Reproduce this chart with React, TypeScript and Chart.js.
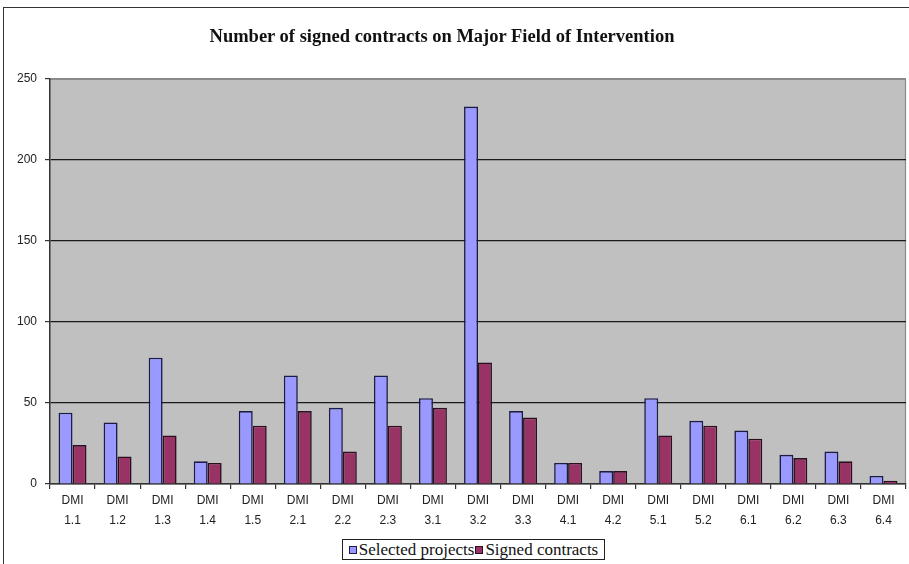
import React, { useEffect, useRef } from "react";
import { Chart, registerables } from "chart.js";

Chart.register(...registerables);

// Major fields of intervention (two-line axis labels)
const categories: string[][] = [
  ["DMI", "1.1"], ["DMI", "1.2"], ["DMI", "1.3"], ["DMI", "1.4"], ["DMI", "1.5"],
  ["DMI", "2.1"], ["DMI", "2.2"], ["DMI", "2.3"], ["DMI", "3.1"], ["DMI", "3.2"],
  ["DMI", "3.3"], ["DMI", "4.1"], ["DMI", "4.2"], ["DMI", "5.1"], ["DMI", "5.2"],
  ["DMI", "6.1"], ["DMI", "6.2"], ["DMI", "6.3"], ["DMI", "6.4"],
];

const selectedProjects: number[] = [44, 38, 78, 14, 45, 67, 47, 67, 53, 233, 45, 13, 8, 53, 39, 33, 18, 20, 5];
const signedContracts: number[] = [24, 17, 30, 13, 36, 45, 20, 36, 47, 75, 41, 13, 8, 30, 36, 28, 16, 14, 2];

const yMin = 0;
const yMax = 250;
const yStep = 50;

const seriesNames = ["Selected projects", "Signed contracts"];
const seriesColors = ["#9999FF", "#993366"];
const seriesBorders = ["#1c1c4a", "#2a0f1e"];

const titleText = "Number of signed contracts on Major Field of Intervention";

// Grey plot background with a light frame on the top and right edges
const plotBackground = {
  id: "plotBackground",
  beforeDraw(chart: any) {
    const { ctx, chartArea: a } = chart;
    ctx.save();
    ctx.fillStyle = "#C0C0C0";
    ctx.fillRect(a.left, a.top, a.right - a.left, a.bottom - a.top);
    ctx.strokeStyle = "#8a8a8a";
    ctx.lineWidth = 1.2;
    ctx.beginPath();
    ctx.moveTo(a.left, a.top + 0.5);
    ctx.lineTo(a.right - 0.5, a.top + 0.5);
    ctx.lineTo(a.right - 0.5, a.bottom);
    ctx.stroke();
    ctx.restore();
  },
};

export default function App() {
  const canvasRef = useRef<HTMLCanvasElement | null>(null);

  useEffect(() => {
    if (!canvasRef.current) return;
    const tickFont = { family: "'Liberation Sans', Arial, sans-serif", size: 12 };
    const chart = new Chart(canvasRef.current, {
      type: "bar",
      data: {
        labels: categories,
        datasets: [
          {
            label: seriesNames[0],
            data: selectedProjects,
            backgroundColor: seriesColors[0],
            borderColor: seriesBorders[0],
            borderWidth: 1.6,
          },
          {
            label: seriesNames[1],
            data: signedContracts,
            backgroundColor: seriesColors[1],
            borderColor: seriesBorders[1],
            borderWidth: 1.6,
          },
        ],
      },
      options: {
        animation: false,
        responsive: false,
        layout: { padding: { top: 79, right: 3, left: 0, bottom: 0 } },
        datasets: { bar: { categoryPercentage: 0.62, barPercentage: 1 } },
        plugins: {
          legend: { display: false },
          title: { display: false },
          tooltip: { enabled: false },
        },
        scales: {
          x: {
            grid: {
              offset: true,
              drawOnChartArea: false,
              drawTicks: true,
              tickLength: 5,
              color: "#333333",
              lineWidth: 1.2,
            },
            border: { color: "#333333", width: 1.5 },
            ticks: {
              font: { ...tickFont, lineHeight: 1.65 },
              color: "#222222",
              padding: 2,
              maxRotation: 0,
              autoSkip: false,
            },
            afterFit(scale: any) {
              scale.height = 80;
            },
          },
          y: {
            min: yMin,
            max: yMax,
            grid: {
              color: (ctx: any) => (ctx.tick && ctx.tick.value === yMax ? "#8a8a8a" : "#1a1a1a"),
              tickColor: "#333333",
              lineWidth: 1.2,
              drawTicks: true,
              tickLength: 5,
            },
            border: { color: "#333333", width: 1.5 },
            ticks: {
              stepSize: yStep,
              font: tickFont,
              color: "#222222",
              padding: 8,
            },
            afterFit(scale: any) {
              scale.width = 50;
            },
          },
        },
      },
      plugins: [plotBackground],
    });
    return () => chart.destroy();
  }, []);

  return (
    <div
      style={{
        position: "fixed",
        left: 0,
        top: 0,
        width: 909,
        height: 564,
        background: "#ffffff",
        overflow: "hidden",
      }}
    >
      <div
        style={{
          position: "absolute",
          left: 3,
          top: 7,
          width: 1000,
          height: 1000,
          borderLeft: "1px solid #333",
          borderTop: "1px solid #333",
        }}
      />
      <canvas
        ref={canvasRef}
        width={909}
        height={564}
        style={{ position: "absolute", left: 0, top: 0, width: 909, height: 564 }}
      />
      <div
        style={{
          position: "absolute",
          left: 0,
          width: 884,
          top: 24,
          textAlign: "center",
          fontFamily: "'Liberation Serif', 'Times New Roman', serif",
          fontWeight: "bold",
          fontSize: 18.5,
          lineHeight: "24px",
          color: "#111",
        }}
      >
        {titleText}
      </div>
      <div
        style={{
          position: "absolute",
          left: 342,
          top: 539,
          width: 261,
          height: 19,
          border: "1px solid #222",
          background: "#fff",
          display: "flex",
          alignItems: "center",
          justifyContent: "center",
          fontFamily: "'Liberation Serif', 'Times New Roman', serif",
          fontSize: 17,
          color: "#111",
          whiteSpace: "nowrap",
        }}
      >
        {seriesNames.map((name, i) => (
          <span key={name} style={{ display: "inline-flex", alignItems: "center" }}>
            <span
              style={{
                display: "inline-block",
                width: 6,
                height: 6,
                background: seriesColors[i],
                border: `1px solid ${seriesBorders[i]}`,
                marginRight: 2,
                marginLeft: i === 0 ? 0 : 1,
              }}
            />
            {name}
          </span>
        ))}
      </div>
    </div>
  );
}
